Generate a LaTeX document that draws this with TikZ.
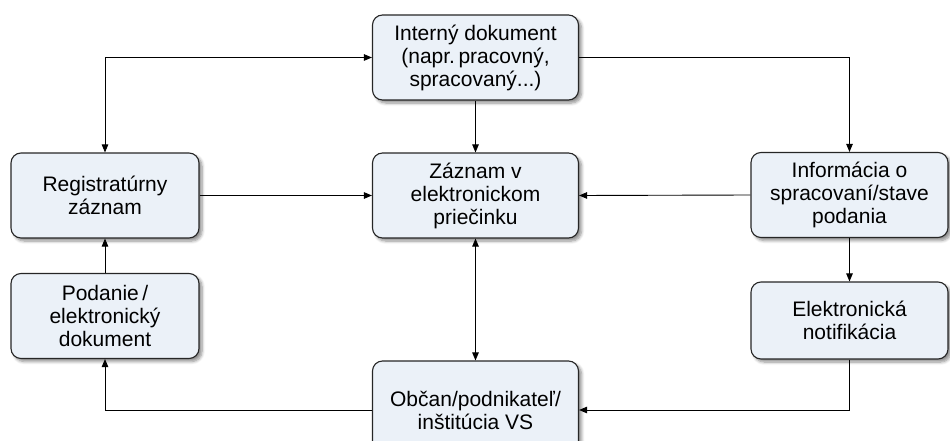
\documentclass[tikz,border=0pt]{standalone}
\usepackage{fontspec}
\setmainfont{Liberation Sans}
\usetikzlibrary{arrows.meta,shadows.blur,positioning}
\definecolor{boxfill}{HTML}{EBF1F8}
\tikzset{
  box/.style={draw=black!85, line width=1.1pt, fill=boxfill, rounded corners=10pt,
    minimum width=206pt, minimum height=85pt, align=center, inner sep=0pt,
    font=\fontsize{21}{23}\selectfont,
    blur shadow={shadow xshift=3pt, shadow yshift=-3pt, shadow blur steps=6, shadow opacity=45, shadow blur radius=3pt}},
  sbox/.style={box, minimum width=188pt},
  conn/.style={draw=black, line width=0.9pt, -{Triangle[length=8pt,width=6.5pt]}},
  dconn/.style={draw=black, line width=0.9pt, {Triangle[length=8pt,width=6.5pt]}-{Triangle[length=8pt,width=6.5pt]}},
}
\begin{document}
\begin{tikzpicture}[x=1pt,y=-1pt]
\useasboundingbox (0,0) rectangle (950,441);
\clip (0,0) rectangle (950,441);
\node[box] (int) at (475.5,57.5) {Interný dokument\\(napr.\,pracovný,\\spracovaný...)};
\node[box] (zaz) at (475.5,195.5) {Záznam v\\elektronickom\\priečinku};
\node[sbox] (reg) at (105,195.5) {Registratúrny\\záznam};
\node[sbox] (pod) at (105,316) {Podanie\,/\\elektronický\\dokument};
\node[box, minimum width=197pt] (inf) at (849.5,195) {Informácia o\\spracovaní/stave\\podania};
\node[box, minimum width=197pt, minimum height=77pt] (ele) at (849.5,320.5) {Elektronická\\notifikácia};
\node[box, minimum height=98pt] (obc) at (475.5,410) {Občan/podnikateľ/\\inštitúcia VS};
\coordinate (c1) at (reg.north |- int.west);
\coordinate (c2) at (inf.north |- int.east);
\coordinate (c3) at (ele.south |- obc.east);
\coordinate (c4) at (pod.south |- obc.west);
\draw[dconn] (reg.north) -- (c1) -- (int.west);
\draw[conn] (int.east) -- (c2) -- (inf.north);
\draw[conn] (int.south) -- (zaz.north);
\draw[conn] (reg.east) -- (zaz.west);
\draw[conn] (inf.west) -- (zaz.east);
\draw[conn] (inf.south) -- (ele.north);
\draw[conn] (ele.south) -- (c3) -- (obc.east);
\draw[dconn] (zaz.south) -- (obc.north);
\draw[conn] (obc.west) -- (c4) -- (pod.south);
\draw[conn] (pod.north) -- (reg.south);
\end{tikzpicture}
\end{document}
